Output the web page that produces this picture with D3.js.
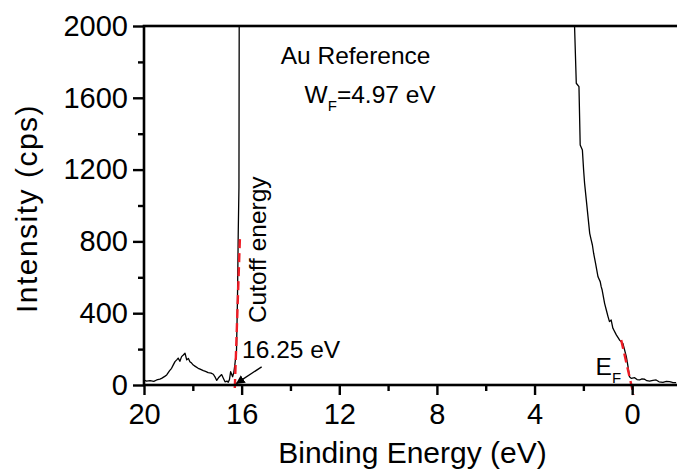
<!DOCTYPE html>
<html>
<head>
<meta charset="utf-8">
<script src="https://d3js.org/d3.v7.min.js"></script>
<style>
  body { margin: 0; background: #ffffff; }
  text { font-family: "Liberation Sans", Arial, sans-serif; fill: #000000; }
  .tick-label { font-size: 29px; }
  .axis-title { font-size: 30px; }
  .note { font-size: 24.5px; }
</style>
</head>
<body>
<div id="chart"></div>
<script>
  // Cutoff side of the Au spectrum (binding energy in eV, intensity in cps)
  const cutoffEnergy = [20.0, 19.9, 19.75, 19.6, 19.48, 19.35, 19.28, 19.15, 19.07, 18.95, 18.87, 18.8, 18.73, 18.66, 18.6, 18.53, 18.46, 18.39, 18.32, 18.25, 18.18, 18.12, 18.05, 17.98, 17.9, 17.78, 17.7, 17.57, 17.48, 17.37, 17.25, 17.16, 17.08, 17.02, 16.95, 16.88, 16.82, 16.75, 16.68, 16.6, 16.55, 16.5, 16.45, 16.41, 16.37, 16.32, 16.28, 16.21, 16.17, 16.14, 16.11, 16.10, 16.08];
  const cutoffCounts = [28, 22, 24, 20, 28, 33, 37, 48, 56, 80, 93, 112, 130, 140, 150, 132, 158, 167, 177, 140, 148, 130, 122, 111, 104, 93, 88, 80, 76, 69, 66, 60, 42, 26, 40, 50, 58, 38, 18, 22, 15, 30, 74, 60, 46, 70, 110, 195, 480, 840, 1100, 2000, 2400];

  // Fermi edge side of the spectrum
  const fermiEnergy = [2.45, 2.36, 2.29, 2.18, 2.13, 2.04, 1.99, 1.95, 1.88, 1.81, 1.74, 1.68, 1.63, 1.58, 1.50, 1.40, 1.31, 1.27, 1.23, 1.13, 1.06, 0.99, 0.93, 0.86, 0.79, 0.65, 0.52, 0.38, 0.24, 0.17, 0.11, 0.04, -0.10, -0.20, -0.30, -0.40, -0.51, -0.60, -0.71, -0.85, -0.98, -1.10, -1.26, -1.40, -1.53, -1.65, -1.80];
  const fermiCounts = [2350, 1996, 1681, 1662, 1337, 1309, 1198, 1124, 1031, 938, 845, 808, 780, 734, 678, 603, 576, 548, 529, 455, 418, 381, 353, 362, 316, 279, 251, 232, 158, 102, 46, 37, 41, 30, 28, 34, 32, 24, 22, 26, 28, 18, 15, 20, 19, 14, 13];

  // Linear fits (red dashed lines): [energy, counts] end points
  const cutoffFit = [[16.28, -17], [16.07, 820]];
  const fermiFit = [[0.45, 251], [-0.06, -56]];

  // Axis ticks
  const xMajorTicks = [20, 16, 12, 8, 4, 0];
  const xMinorTicks = [18, 14, 10, 6, 2, -2];
  const yMajorTicks = [0, 400, 800, 1200, 1600, 2000];
  const yMinorTicks = [200, 600, 1000, 1400, 1800];

  const W = 677, H = 474;
  const margin = {top: 26, right: -4, bottom: 89, left: 144};
  const innerW = W - margin.left - margin.right;
  const innerH = H - margin.top - margin.bottom;

  const svg = d3.select("#chart").append("svg")
    .attr("width", W)
    .attr("height", H);

  const g = svg.append("g")
    .attr("transform", `translate(${margin.left},${margin.top})`);

  const x = d3.scaleLinear().domain([20, -2]).range([0, innerW]);
  const y = d3.scaleLinear().domain([0, 2000]).range([innerH, 0]);

  g.append("clipPath").attr("id", "plot-clip")
    .append("rect").attr("width", innerW).attr("height", innerH);

  // spectrum lines
  const line = d3.line().x(d => x(d[0])).y(d => y(d[1]));
  const cutoffData = cutoffEnergy.map((e, i) => [e, cutoffCounts[i]]);
  const fermiData = fermiEnergy.map((e, i) => [e, fermiCounts[i]]);

  g.append("g").attr("clip-path", "url(#plot-clip)")
    .selectAll("path.spec")
    .data([cutoffData, fermiData])
    .join("path")
    .attr("class", "spec")
    .attr("fill", "none")
    .attr("stroke", "#000")
    .attr("stroke-width", 1.3)
    .attr("stroke-linejoin", "round")
    .attr("d", line);

  // fit lines
  g.selectAll("path.fit")
    .data([cutoffFit, fermiFit])
    .join("path")
    .attr("class", "fit")
    .attr("fill", "none")
    .attr("stroke", "#ee1c25")
    .attr("stroke-width", 2.4)
    .attr("stroke-dasharray", "9,5")
    .attr("d", line);

  // axes
  const xAxisMajor = d3.axisBottom(x).tickValues(xMajorTicks).tickSize(10).tickPadding(8).tickFormat(d3.format("d"));
  const xAxisMinor = d3.axisBottom(x).tickValues(xMinorTicks).tickSize(6).tickFormat("");
  const yAxisMajor = d3.axisLeft(y).tickValues(yMajorTicks).tickSize(11).tickPadding(5).tickFormat(d3.format("d"));
  const yAxisMinor = d3.axisLeft(y).tickValues(yMinorTicks).tickSize(6).tickFormat("");

  const xg = g.append("g").attr("transform", `translate(0,${innerH})`);
  xg.append("g").call(xAxisMajor);
  xg.append("g").call(xAxisMinor);
  const yg = g.append("g");
  yg.append("g").call(yAxisMajor);
  yg.append("g").call(yAxisMinor);

  g.selectAll(".domain").remove();
  g.selectAll(".tick line").attr("stroke", "#000").attr("stroke-width", 2.4);
  g.selectAll(".tick text")
    .attr("class", "tick-label")
    .attr("fill", "#000")
    .style("font-family", '"Liberation Sans", Arial, sans-serif');

  // frame
  g.append("rect")
    .attr("width", innerW).attr("height", innerH)
    .attr("fill", "none").attr("stroke", "#000").attr("stroke-width", 2.6);

  // axis titles
  g.append("text").attr("class", "axis-title")
    .attr("x", innerW / 2).attr("y", innerH + 78)
    .attr("text-anchor", "middle")
    .text("Binding Energy (eV)");

  g.append("text").attr("class", "axis-title")
    .attr("transform", `translate(${-107},${innerH / 2 + 3}) rotate(-90)`)
    .attr("text-anchor", "middle")
    .style("letter-spacing", "1.5px")
    .text("Intensity (cps)");

  // annotations
  g.append("text").attr("class", "note")
    .attr("x", x(14.4)).attr("y", y(1790))
    .text("Au Reference");

  const wf = g.append("text").attr("class", "note")
    .attr("x", x(13.42)).attr("y", y(1570));
  wf.append("tspan").text("W");
  wf.append("tspan").attr("dy", 8).style("font-size", "15px").text("F");
  wf.append("tspan").attr("dy", -8).text("=4.97 eV");

  g.append("text").attr("class", "note")
    .attr("transform", `translate(${x(15.0)},${y(345)}) rotate(-90)`)
    .text("Cutoff energy");

  g.append("text").attr("class", "note")
    .attr("x", x(15.98)).attr("y", y(150))
    .text("16.25 eV");

  const ef = g.append("text").attr("class", "note")
    .attr("x", x(1.5)).attr("y", y(55));
  ef.append("tspan").text("E");
  ef.append("tspan").attr("dy", 8).style("font-size", "15px").text("F");

  // arrow pointing at the cutoff
  svg.append("defs").append("marker")
    .attr("id", "arrow")
    .attr("viewBox", "0 0 10 10")
    .attr("refX", 9).attr("refY", 5)
    .attr("markerWidth", 9).attr("markerHeight", 9)
    .attr("markerUnits", "userSpaceOnUse")
    .attr("orient", "auto")
    .append("path").attr("d", "M0,0 L10,5 L0,10 z").attr("fill", "#000");

  g.append("line")
    .attr("x1", x(15.18)).attr("y1", y(101))
    .attr("x2", x(16.21)).attr("y2", y(9))
    .attr("stroke", "#000").attr("stroke-width", 1.3)
    .attr("marker-end", "url(#arrow)");
</script>
</body>
</html>
